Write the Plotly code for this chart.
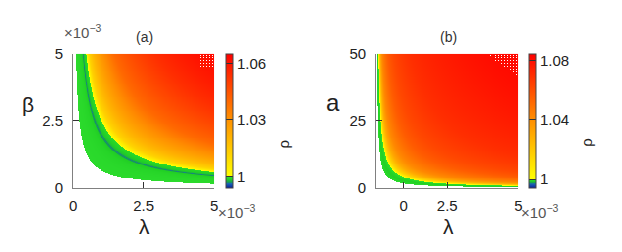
import numpy as np
import plotly.graph_objects as go

W, H = 622, 252

def fx(px):
    return px / W

def fy(py):
    return 1 - py / H

# ---------------- data ----------------
# panel (a): lambda (x1e-3) vs beta (x1e-3); rho read along contours of lambda^0.9*beta
a_lam_ticks = [0, 2.5, 5]
a_lam_ticktext = ["0", "2.5", "5"]
a_beta_ticks = [0, 2.5, 5]
a_beta_ticktext = ["0", "2.5", "5"]
a_contour_u = [0.65, 1.2, 1.6, 1.85, 1.93, 1.97, 2.01, 2.1, 2.2, 2.45, 2.51, 2.52, 3.0, 3.75,
               5.2, 7.0, 10.0, 13.0, 16.0, 21.3, 23.0]
a_contour_rho = [0.9995, 0.9993, 0.9990, 0.9985, 0.9972, 0.99655, 0.9972, 0.9982, 0.9986,
                 0.9992, 0.99995, 1.0003, 1.012, 1.020, 1.030, 1.040, 1.048, 1.054, 1.058,
                 1.063, 1.064]
a_u_white = 0.65
a_cb_ticks = [1.0, 1.03, 1.06]
a_cb_text = ["1", "1.03", "1.06"]
a_zmin, a_zmax = 0.994, 1.065

# panel (b): lambda (x1e-3) vs a; rho read along contours of lambda*a
b_lam_ticks = [0.97, 2.5, 5]
b_lam_ticktext = ["0", "2.5", "5"]
b_a_ticks = [0, 25, 50]
b_a_ticktext = ["0", "25", "50"]
b_contour_u = [1.6, 2.2, 2.6, 3.2, 3.85, 3.9, 5.0, 7.0, 10.0, 20.0, 30.0, 60.0, 120.0, 250.0]
b_contour_rho = [0.9995, 0.9989, 0.9986, 0.9990, 0.99995, 1.0003, 1.015, 1.030, 1.042,
                 1.056, 1.062, 1.070, 1.076, 1.083]
b_u_white = 1.6
b_cb_ticks = [1.0, 1.04, 1.08]
b_cb_text = ["1", "1.04", "1.08"]
b_zmin, b_zmax = 0.994, 1.0844

# missing-pixel patches seen in the top-right corners
a_gap_lam = [4.45, 4.95]
a_gap_beta = [4.45, 4.97]
b_gap_lam0, b_gap_a0 = 3.85, 41.7

# ---------------- fields ----------------
N = 144
lam = (np.arange(N) + 0.5) * 5.0 / N
beta = (np.arange(N) + 0.5) * 5.0 / N
Ua = (lam[None, :] ** 0.9) * beta[:, None]
Za = np.interp(np.log(Ua), np.log(a_contour_u), a_contour_rho)
Za[Ua < a_u_white] = np.nan
I, J = np.meshgrid(np.arange(N), np.arange(N))  # I: column (x), J: row (y)
LAM, BET = np.meshgrid(lam, beta)
gap_a = ((LAM >= a_gap_lam[0]) & (LAM <= a_gap_lam[1]) & (BET >= a_gap_beta[0]) &
         (BET <= a_gap_beta[1]) & (I % 3 == 1) & (J % 3 == 1))
Za[gap_a] = np.nan

lam_b = (np.arange(N) + 0.5) * 5.0 / N
a_b = (np.arange(N) + 0.5) * 50.0 / N
Ub = lam_b[None, :] * a_b[:, None]
Zb = np.interp(np.log(Ub), np.log(b_contour_u), b_contour_rho)
Zb[Ub < b_u_white] = np.nan
LB, AB = np.meshgrid(lam_b, a_b)
gap_b = (((LB - b_gap_lam0) / (5 - b_gap_lam0) + (AB - b_gap_a0) / (50 - b_gap_a0) >= 1.0) &
         (I % 3 == 1) & (J % 3 == 1))
Zb[gap_b] = np.nan


def scale(zmin, zmax, blue_top):
    span = zmax - zmin
    n = lambda v: (v - zmin) / span
    return [
        [0.0, "#0a1ea0"],
        [n(blue_top - 0.0006), "#1a68b0"],
        [n(blue_top), "#169a58"],
        [n(0.9986), "#22d024"],
        [n(0.99995), "#30e030"],
        [n(1.0), "#ffff00"],
        [(n(1.0) + 1) / 2, "#ff8800"],
        [1.0, "#ff0000"],
    ]


fig = go.Figure()

tickfont = dict(family="Liberation Sans, Arial, sans-serif", size=15, color="#222")

fig.add_trace(go.Heatmap(
    x=lam, y=beta, z=Za, zmin=a_zmin, zmax=a_zmax,
    colorscale=scale(a_zmin, a_zmax, 0.997),
    xaxis="x", yaxis="y", hoverinfo="skip",
    colorbar=dict(x=fx(225), xanchor="left", y=(fy(192) + fy(48)) / 2, yanchor="middle",
                  len=144 / H, lenmode="fraction", thickness=7, thicknessmode="pixels",
                  xpad=0, ypad=0, outlinecolor="#444", outlinewidth=1,
                  tickvals=a_cb_ticks, ticktext=a_cb_text, ticks="inside", ticklen=7,
                  tickcolor="#333", tickfont=tickfont),
))

fig.add_trace(go.Heatmap(
    x=lam_b, y=a_b, z=Zb, zmin=b_zmin, zmax=b_zmax,
    colorscale=scale(b_zmin, b_zmax, 0.9975),
    xaxis="x2", yaxis="y2", hoverinfo="skip",
    colorbar=dict(x=fx(532), xanchor="left", y=(fy(192) + fy(48)) / 2, yanchor="middle",
                  len=144 / H, lenmode="fraction", thickness=7, thicknessmode="pixels",
                  xpad=0, ypad=0, outlinecolor="#444", outlinewidth=1,
                  tickvals=b_cb_ticks, ticktext=b_cb_text, ticks="inside", ticklen=7,
                  tickcolor="#333", tickfont=tickfont),
))

common = dict(ticks="inside", ticklen=6, tickcolor="#333", showgrid=False, zeroline=False,
              tickfont=tickfont)
line = dict(showline=True, linecolor="#808080", linewidth=1)
mirror = dict(showticklabels=False, showline=False)

dom_ya = [fy(192), fy(48)]
dom_xa = [fx(70), fx(213)]
dom_xb = [fx(377), fx(521)]

fig.update_layout(
    width=W, height=H, margin=dict(l=0, r=0, t=0, b=0),
    paper_bgcolor="white", plot_bgcolor="white", showlegend=False,
    xaxis=dict(domain=dom_xa, range=[0, 5], anchor="y", tickvals=a_lam_ticks,
               ticktext=a_lam_ticktext, ticklabelstandoff=4, **common, **line),
    yaxis=dict(domain=dom_ya, range=[0, 5], anchor="x", tickvals=a_beta_ticks,
               ticktext=a_beta_ticktext, ticklabelstandoff=6, **common, **line),
    xaxis3=dict(overlaying="x", side="top", range=[0, 5], anchor="y", tickvals=a_lam_ticks,
                **common, **mirror),
    yaxis3=dict(overlaying="y", side="right", range=[0, 5], anchor="x", tickvals=a_beta_ticks,
                **common, **mirror),
    xaxis2=dict(domain=dom_xb, range=[0, 5], anchor="y2", tickvals=b_lam_ticks,
                ticktext=b_lam_ticktext, ticklabelstandoff=4, **common, **line),
    yaxis2=dict(domain=dom_ya, range=[0, 50], anchor="x2", tickvals=b_a_ticks,
                ticktext=b_a_ticktext, ticklabelstandoff=6, **common, **line),
    xaxis4=dict(overlaying="x2", side="top", range=[0, 5], anchor="y2", tickvals=b_lam_ticks,
                **common, **mirror),
    yaxis4=dict(overlaying="y2", side="right", range=[0, 50], anchor="x2", tickvals=b_a_ticks,
                **common, **mirror),
)

sym = dict(family="Liberation Sans, Arial, sans-serif", size=21, color="#222")
lab = dict(family="Liberation Sans, Arial, sans-serif", size=14, color="#333")
mul = dict(family="Liberation Sans, Arial, sans-serif", size=15, color="#555")

ann = [
    dict(x=fx(142), y=fy(30), text="(a)", font=lab),
    dict(x=fx(450), y=fy(30), text="(b)", font=lab),
    dict(x=fx(24), y=fy(102), text="β", font=sym),
    dict(x=fx(333), y=fy(100), text="a", font=dict(sym, size=24)),
    dict(x=fx(142), y=fy(233), text="λ", font=sym),
    dict(x=fx(450), y=fy(233), text="λ", font=sym),
    dict(x=fx(283), y=fy(145), text="ρ", font=dict(sym, size=15), textangle=-90),
    dict(x=fx(590), y=fy(143), text="ρ", font=dict(sym, size=15), textangle=-90),
    dict(x=fx(80), y=fy(24), text="×10<sup>−3</sup>", font=mul),
    dict(x=fx(236), y=fy(217), text="×10<sup>−3</sup>", font=mul),
    dict(x=fx(543), y=fy(217), text="×10<sup>−3</sup>", font=mul),
]
for a in ann:
    a.update(xref="paper", yref="paper", showarrow=False, xanchor="center", yanchor="middle")
fig.update_layout(annotations=ann)

fig.write_html("out.html", config={"displayModeBar": False},
               post_script="document.body.style.margin='0';")
